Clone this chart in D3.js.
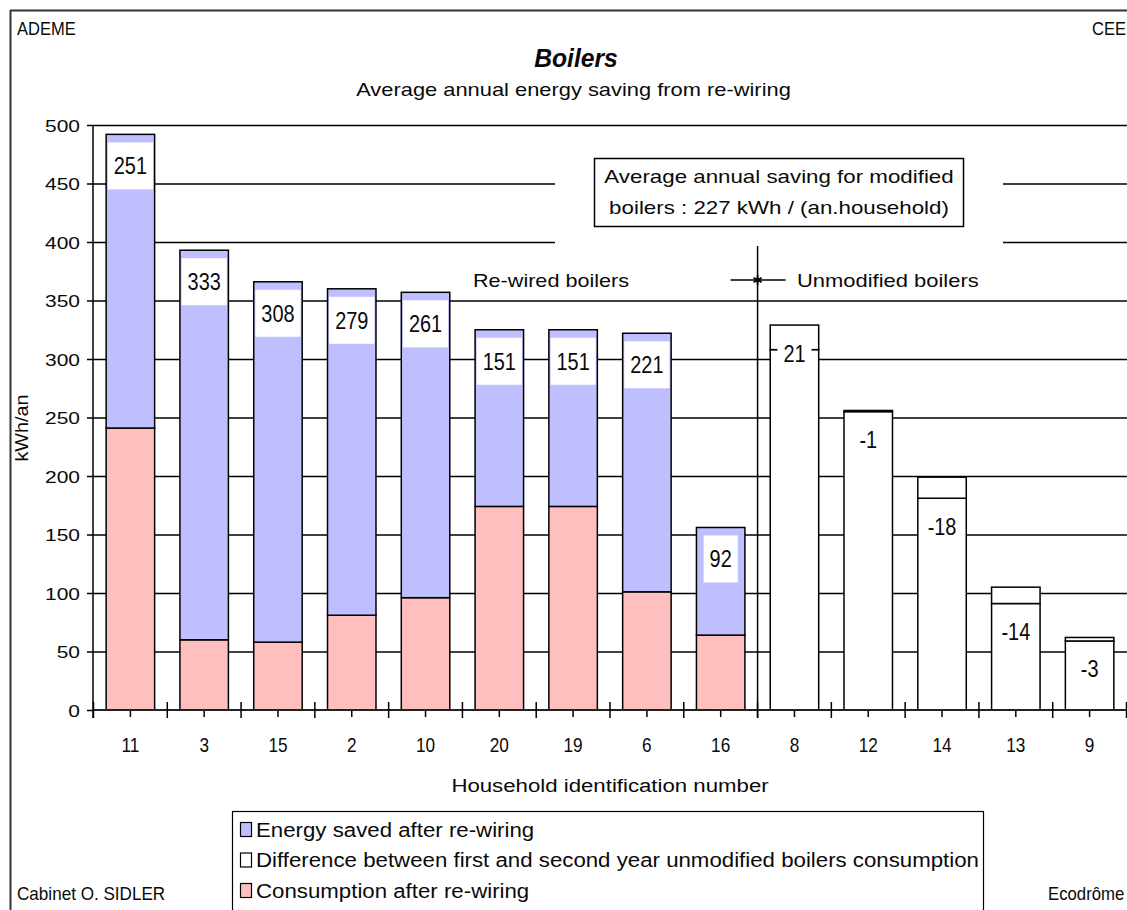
<!DOCTYPE html>
<html><head><meta charset="utf-8">
<script src="https://cdn.jsdelivr.net/npm/d3@7"></script>
<style>
html,body{margin:0;padding:0;background:#fff;}
svg{display:block;font-family:"Liberation Sans",Arial,sans-serif;}
</style></head>
<body>
<svg id="chart" width="1127" height="910"></svg>
<script>
// ---------- data ----------
const rewiredIds = ["11","3","15","2","10","20","19","6","16"];
const consumptionAfter = [241, 60, 58, 81, 96, 174, 174, 101, 64];
const energySaved = [251, 333, 308, 279, 261, 151, 151, 221, 92];
const unmodifiedIds = ["8","12","14","13","9"];
const unmodifiedBase = [308, 256, 199, 105, 62];
const yearDifference = [21, -1, -18, -14, -3];
const yTicks = [0,50,100,150,200,250,300,350,400,450,500];
const legendLabels = ["Energy saved after re-wiring",
  "Difference between first and second year unmodified boilers consumption",
  "Consumption after re-wiring"];
const titleText = "Boilers";
const subtitleText = "Average annual energy saving from re-wiring";
const noteLines = ["Average annual saving for modified", "boilers : 227 kWh / (an.household)"];

// ---------- setup ----------
const PINK = "#ffbfbf", BLUE = "#bfbfff";
const svg = d3.select("#chart");
const allIds = rewiredIds.concat(unmodifiedIds);
const x = d3.scaleBand().domain(allIds).range([93.5, 1126.5]).paddingInner(0.343).paddingOuter(0.1715);
const y = d3.scaleLinear().domain([0,500]).range([710,125]);
const step = x.step();
const bound = id => x(id) - step*x.paddingInner()/2;

function txt(parent, px, py, str, o) {
  o = o || {};
  const g = parent.append("g")
    .attr("transform", `translate(${px},${py})${o.rot?` rotate(${o.rot})`:""} scale(${o.sx||1},1)`);
  const t = g.append("text").text(str)
    .attr("font-size", o.size || 16)
    .attr("text-anchor", o.anchor || "start")
    .attr("fill", "#0a0a0a");
  if (o.weight) t.attr("font-weight", o.weight);
  if (o.style) t.attr("font-style", o.style);
  return t;
}

// outer frame
svg.append("line").attr("x1",10).attr("x2",1127).attr("y1",10.5).attr("y2",10.5).attr("stroke","#333").attr("stroke-width",2);
svg.append("line").attr("x1",10.5).attr("x2",10.5).attr("y1",10).attr("y2",910).attr("stroke","#333").attr("stroke-width",2);

// corner texts
txt(svg, 17, 35, "ADEME", {size:18, sx:0.92});
txt(svg, 1126, 35, "CEE", {size:18, sx:0.92, anchor:"end"});
txt(svg, 17, 900, "Cabinet O. SIDLER", {size:18, sx:0.95});
txt(svg, 1048, 900, "Ecodrôme", {size:18, sx:0.93});

// title
txt(svg, 576, 67, titleText, {size:26, sx:0.95, anchor:"middle", weight:"bold", style:"italic"});
txt(svg, 573.5, 96, subtitleText, {size:17.5, sx:1.25, anchor:"middle"});

// gridlines
const grid = svg.append("g").attr("transform","translate(93,0)")
  .call(d3.axisLeft(y).tickValues(yTicks.filter(v=>v>0)).tickSize(-1040).tickFormat(""));
grid.select(".domain").remove();
grid.selectAll("line").attr("stroke","#000").attr("stroke-width",1.5);

// rewired bars
const rw = rewiredIds.map((id,i)=>({id, c:consumptionAfter[i], s:energySaved[i]}));
const gB = svg.append("g");
gB.selectAll("rect.pink").data(rw).join("rect")
  .attr("x", d=>x(d.id)).attr("width", x.bandwidth())
  .attr("y", d=>y(d.c)).attr("height", d=>y(0)-y(d.c))
  .attr("fill", PINK).attr("stroke","#000").attr("stroke-width",1.5);
gB.selectAll("rect.blue").data(rw).join("rect")
  .attr("x", d=>x(d.id)).attr("width", x.bandwidth())
  .attr("y", d=>y(d.c+d.s)).attr("height", d=>y(d.c)-y(d.c+d.s))
  .attr("fill", BLUE).attr("stroke","#000").attr("stroke-width",1.5);

// unmodified bars
const um = unmodifiedIds.map((id,i)=>({id, b:unmodifiedBase[i], d:yearDifference[i]}));
gB.selectAll("rect.low").data(um).join("rect")
  .attr("x", d=>x(d.id)).attr("width", x.bandwidth())
  .attr("y", d=>y(Math.min(d.b, d.b+d.d))).attr("height", d=>y(0)-y(Math.min(d.b,d.b+d.d)))
  .attr("fill","#fff").attr("stroke","#000").attr("stroke-width",1.5);
gB.selectAll("rect.diff").data(um).join("rect")
  .attr("x", d=>x(d.id)).attr("width", x.bandwidth())
  .attr("y", d=>y(Math.max(d.b, d.b+d.d))).attr("height", d=>Math.abs(y(d.b)-y(d.b+d.d)))
  .attr("fill","#fff").attr("stroke","#000").attr("stroke-width",1.5);

// separator
const sepX = bound(unmodifiedIds[0]);
svg.append("line").attr("x1",sepX).attr("x2",sepX).attr("y1",200).attr("y2",718).attr("stroke","#000").attr("stroke-width",1.5);
svg.append("line").attr("x1",sepX-27).attr("x2",sepX+28).attr("y1",280).attr("y2",280).attr("stroke","#000").attr("stroke-width",1.5);
svg.append("path").attr("d", d3.symbol(d3.symbolAsterisk || d3.symbolCross, 60)()).attr("transform",`translate(${sepX},280)`)
  .attr("stroke","#000").attr("stroke-width",1.8).attr("fill","#000");
txt(svg, 473, 287, "Re-wired boilers", {size:18, sx:1.2});
txt(svg, 797, 287, "Unmodified boilers", {size:18, sx:1.22});

// note box
svg.append("rect").attr("x",555).attr("y",145).attr("width",448).attr("height",101).attr("fill","#fff");
svg.append("rect").attr("x",594.5).attr("y",158.5).attr("width",369).attr("height",68).attr("fill","#fff").attr("stroke","#000").attr("stroke-width",1.5);
txt(svg, 779, 183, noteLines[0], {size:18, sx:1.24, anchor:"middle"});
txt(svg, 779, 214, noteLines[1], {size:18, sx:1.24, anchor:"middle"});

// data labels
const LBL = {size:24, sx:0.83};
rw.forEach(d=>{
  const cx = x(d.id)+x.bandwidth()/2, top = y(d.c+d.s)+8;
  const g = svg.append("g");
  const bg = g.append("rect");
  const t = txt(g, cx, top+32, String(d.s), {...LBL, anchor:"middle"});
  const w = t.node().getComputedTextLength()*LBL.sx + 12;
  bg.attr("x", cx-w/2).attr("y", top).attr("width", w).attr("height", 47).attr("fill","#fff");
});
um.forEach(d=>{
  const cx = x(d.id)+x.bandwidth()/2, c = y(d.b+d.d)+28;
  const g = svg.append("g");
  const bg = g.append("rect");
  const t = txt(g, cx, c+8.5, String(d.d), {...LBL, anchor:"middle"});
  const w = t.node().getComputedTextLength()*LBL.sx + 12;
  bg.attr("x", cx-w/2).attr("y", c-23).attr("width", w).attr("height", 46).attr("fill","#fff");
});

// y axis
const ya = svg.append("g").attr("transform","translate(93,0)").call(d3.axisLeft(y).tickValues(yTicks).tickSize(6));
ya.select(".domain").attr("d", `M0,${y(500)}V${y(0)+8}`).attr("stroke","#000").attr("stroke-width",1.5);
ya.selectAll(".tick line").attr("stroke","#000").attr("stroke-width",1.5);
ya.selectAll(".tick text").attr("x",0).attr("dy",0).attr("y",6).attr("font-size",16.5).attr("fill","#0a0a0a")
  .attr("font-family","Liberation Sans, Arial, sans-serif")
  .attr("transform","translate(-13,0) scale(1.27,1)").attr("text-anchor","end");
txt(svg, 28, 428, "kWh/an", {size:18, sx:1.1, anchor:"middle", rot:-90});

// x axis
const xa = svg.append("g").attr("transform",`translate(0,${y(0)})`).call(d3.axisBottom(x).tickSize(7).tickSizeOuter(0));
xa.select(".domain").attr("d","M93,0H1127").attr("stroke","#222").attr("stroke-width",2);
xa.selectAll(".tick line").attr("stroke","#000").attr("stroke-width",1.5).attr("y1",1);
xa.selectAll(".tick text").attr("y",0).attr("dy",0).attr("font-size",21).attr("fill","#0a0a0a")
  .attr("font-family","Liberation Sans, Arial, sans-serif")
  .attr("transform","translate(0,42) scale(0.82,1)");
allIds.concat(["__end"]).forEach((id,i)=>{
  const bx = i<allIds.length ? bound(id) : bound(allIds[allIds.length-1]) + step;
  svg.append("line").attr("x1",bx).attr("x2",bx).attr("y1",y(0)-8).attr("y2",y(0)+8).attr("stroke","#000").attr("stroke-width",1.5);
});
txt(svg, 610, 792, "Household identification number", {size:19, sx:1.17, anchor:"middle"});

// legend
const lg = svg.append("g");
lg.append("rect").attr("x",232.5).attr("y",811.5).attr("width",751).attr("height",110).attr("fill","#fff").attr("stroke","#000").attr("stroke-width",1.2);
const legColors = [BLUE, "#fff", PINK];
legendLabels.forEach((s,i)=>{
  const yy = 822 + i*30.5;
  lg.append("rect").attr("x",240.5).attr("y",yy+0.5).attr("width",11).attr("height",14).attr("fill",legColors[i]).attr("stroke","#000").attr("stroke-width",1.2);
  txt(lg, 256, yy+14.5, s, {size:21, sx:1.06});
});
</script>
</body></html>
